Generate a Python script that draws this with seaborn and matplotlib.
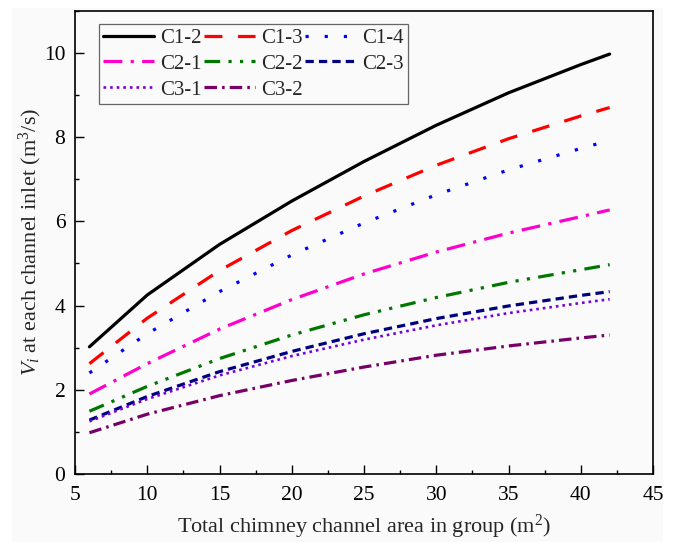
import matplotlib
matplotlib.use("Agg")
import matplotlib.pyplot as plt
from matplotlib.patches import Rectangle
from matplotlib.ticker import MultipleLocator
import pandas as pd
import seaborn as sns

# Total chimney channel area in group (m^2)
area = [6, 10, 15, 20, 25, 30, 35, 40, 42]

# Inlet flow rate per channel (m^3/s) for each configuration
c1_2 = [3.02, 4.25, 5.45, 6.48, 7.42, 8.28, 9.05, 9.72, 9.97]
c1_3 = [2.62, 3.70, 4.83, 5.78, 6.60, 7.33, 7.96, 8.50, 8.70]
c1_4 = [2.40, 3.33, 4.33, 5.20, 5.96, 6.63, 7.22, 7.73, 7.92]
c2_1 = [1.90, 2.62, 3.44, 4.14, 4.75, 5.27, 5.72, 6.11, 6.27]
c2_2 = [1.49, 2.08, 2.74, 3.30, 3.78, 4.19, 4.55, 4.85, 4.97]
c2_3 = [1.28, 1.84, 2.43, 2.91, 3.33, 3.69, 3.99, 4.24, 4.33]
c3_1 = [1.25, 1.78, 2.34, 2.80, 3.19, 3.53, 3.82, 4.06, 4.15]
c3_2 = [0.98, 1.42, 1.86, 2.22, 2.54, 2.82, 3.04, 3.23, 3.30]

labels = ["C1-2", "C1-3", "C1-4", "C2-1", "C2-2", "C2-3", "C3-1", "C3-2"]
series = [c1_2, c1_3, c1_4, c2_1, c2_2, c2_3, c3_1, c3_2]

colors = ["#000000", "#ff0000", "#0000ff", "#ff00cc",
          "#007700", "#000080", "#7700dd", "#770066"]
styles = [
    "-",
    (0, (5.6, 4.9)),
    (0, (1.0, 5.0)),
    (0, (5.9, 2.6, 1.0, 2.6)),
    (0, (4.9, 2.6, 1.0, 2.6, 1.0, 2.6)),
    (0, (2.6, 1.6)),
    (0, (1.0, 1.5)),
    (0, (3.9, 1.6, 0.8, 1.6)),
]
widths = [2.3, 2.3, 2.3, 2.3, 2.3, 2.3, 1.9, 2.3]

sns.set_style("ticks")
plt.rcParams["font.family"] = ["Liberation Serif", "DejaVu Serif"]
plt.rcParams["mathtext.fontset"] = "custom"
plt.rcParams["mathtext.rm"] = "Liberation Serif"
plt.rcParams["mathtext.it"] = "Liberation Serif:italic"

W, H = 682, 547
fig = plt.figure(figsize=(W / 100, H / 100), dpi=100)
fig.patch.set_facecolor("white")
fig.patches.append(Rectangle((12 / W, 1 - 542 / H), (663 - 12) / W, (542 - 8) / H,
                             transform=fig.transFigure, facecolor="#fafafa",
                             edgecolor="none", zorder=-10))

ax = fig.add_axes([75 / W, 1 - 474 / H, (653 - 75) / W, (474 - 10.7) / H])
ax.set_facecolor("#fafafa")

df = pd.DataFrame({"area": area})
for lab, vals in zip(labels, series):
    df[lab] = vals

for lab, col, ls, lw in zip(labels, colors, styles, widths):
    sns.lineplot(data=df, x="area", y=lab, ax=ax, color=col, linestyle=ls,
                 linewidth=lw, label=lab)

ax.set_xlim(5, 45)
ax.set_ylim(0, 11)
ax.xaxis.set_major_locator(MultipleLocator(5))
ax.xaxis.set_minor_locator(MultipleLocator(2.5))
ax.yaxis.set_major_locator(MultipleLocator(2))
ax.yaxis.set_minor_locator(MultipleLocator(1))

for side in ["left", "right", "top", "bottom"]:
    ax.spines[side].set_visible(True)
    ax.spines[side].set_linewidth(1.2)
    ax.spines[side].set_color("black")

ax.tick_params(which="both", direction="in", top=False, right=False,
               colors="black", labelsize=15.5)
ax.tick_params(axis="x", which="both", pad=9)
ax.tick_params(axis="y", which="both", pad=7)
ax.tick_params(which="major", length=6.5, width=1.0)
ax.tick_params(which="minor", length=3.0, width=1.0)

ax.set_xlabel(r"Total chimney channel area in group (m$^2$)", fontsize=16, labelpad=5)
ax.set_ylabel(r"$V_i$ at each channel inlet (m$^3$/s)", fontsize=16, labelpad=0)

# Legend reads row by row: C1-x on the first row, C2-x on the second, C3-x on the third
handles, labs = ax.get_legend_handles_labels()
order = [0, 3, 6, 1, 4, 7, 2, 5]
leg = ax.legend([handles[i] for i in order], [labs[i] for i in order],
                loc="upper left", bbox_to_anchor=(0.0415, 0.971), borderaxespad=0,
                ncol=3, fontsize=15, frameon=True, fancybox=False, shadow=False,
                handlelength=2.45, handletextpad=0.3, columnspacing=0.1,
                labelspacing=0.3, borderpad=0.2, framealpha=1)
leg.get_frame().set_edgecolor("#666666")
leg.get_frame().set_linewidth(0.9)
leg.get_frame().set_facecolor("#fafafa")

fig.savefig("out.png", dpi=100)
